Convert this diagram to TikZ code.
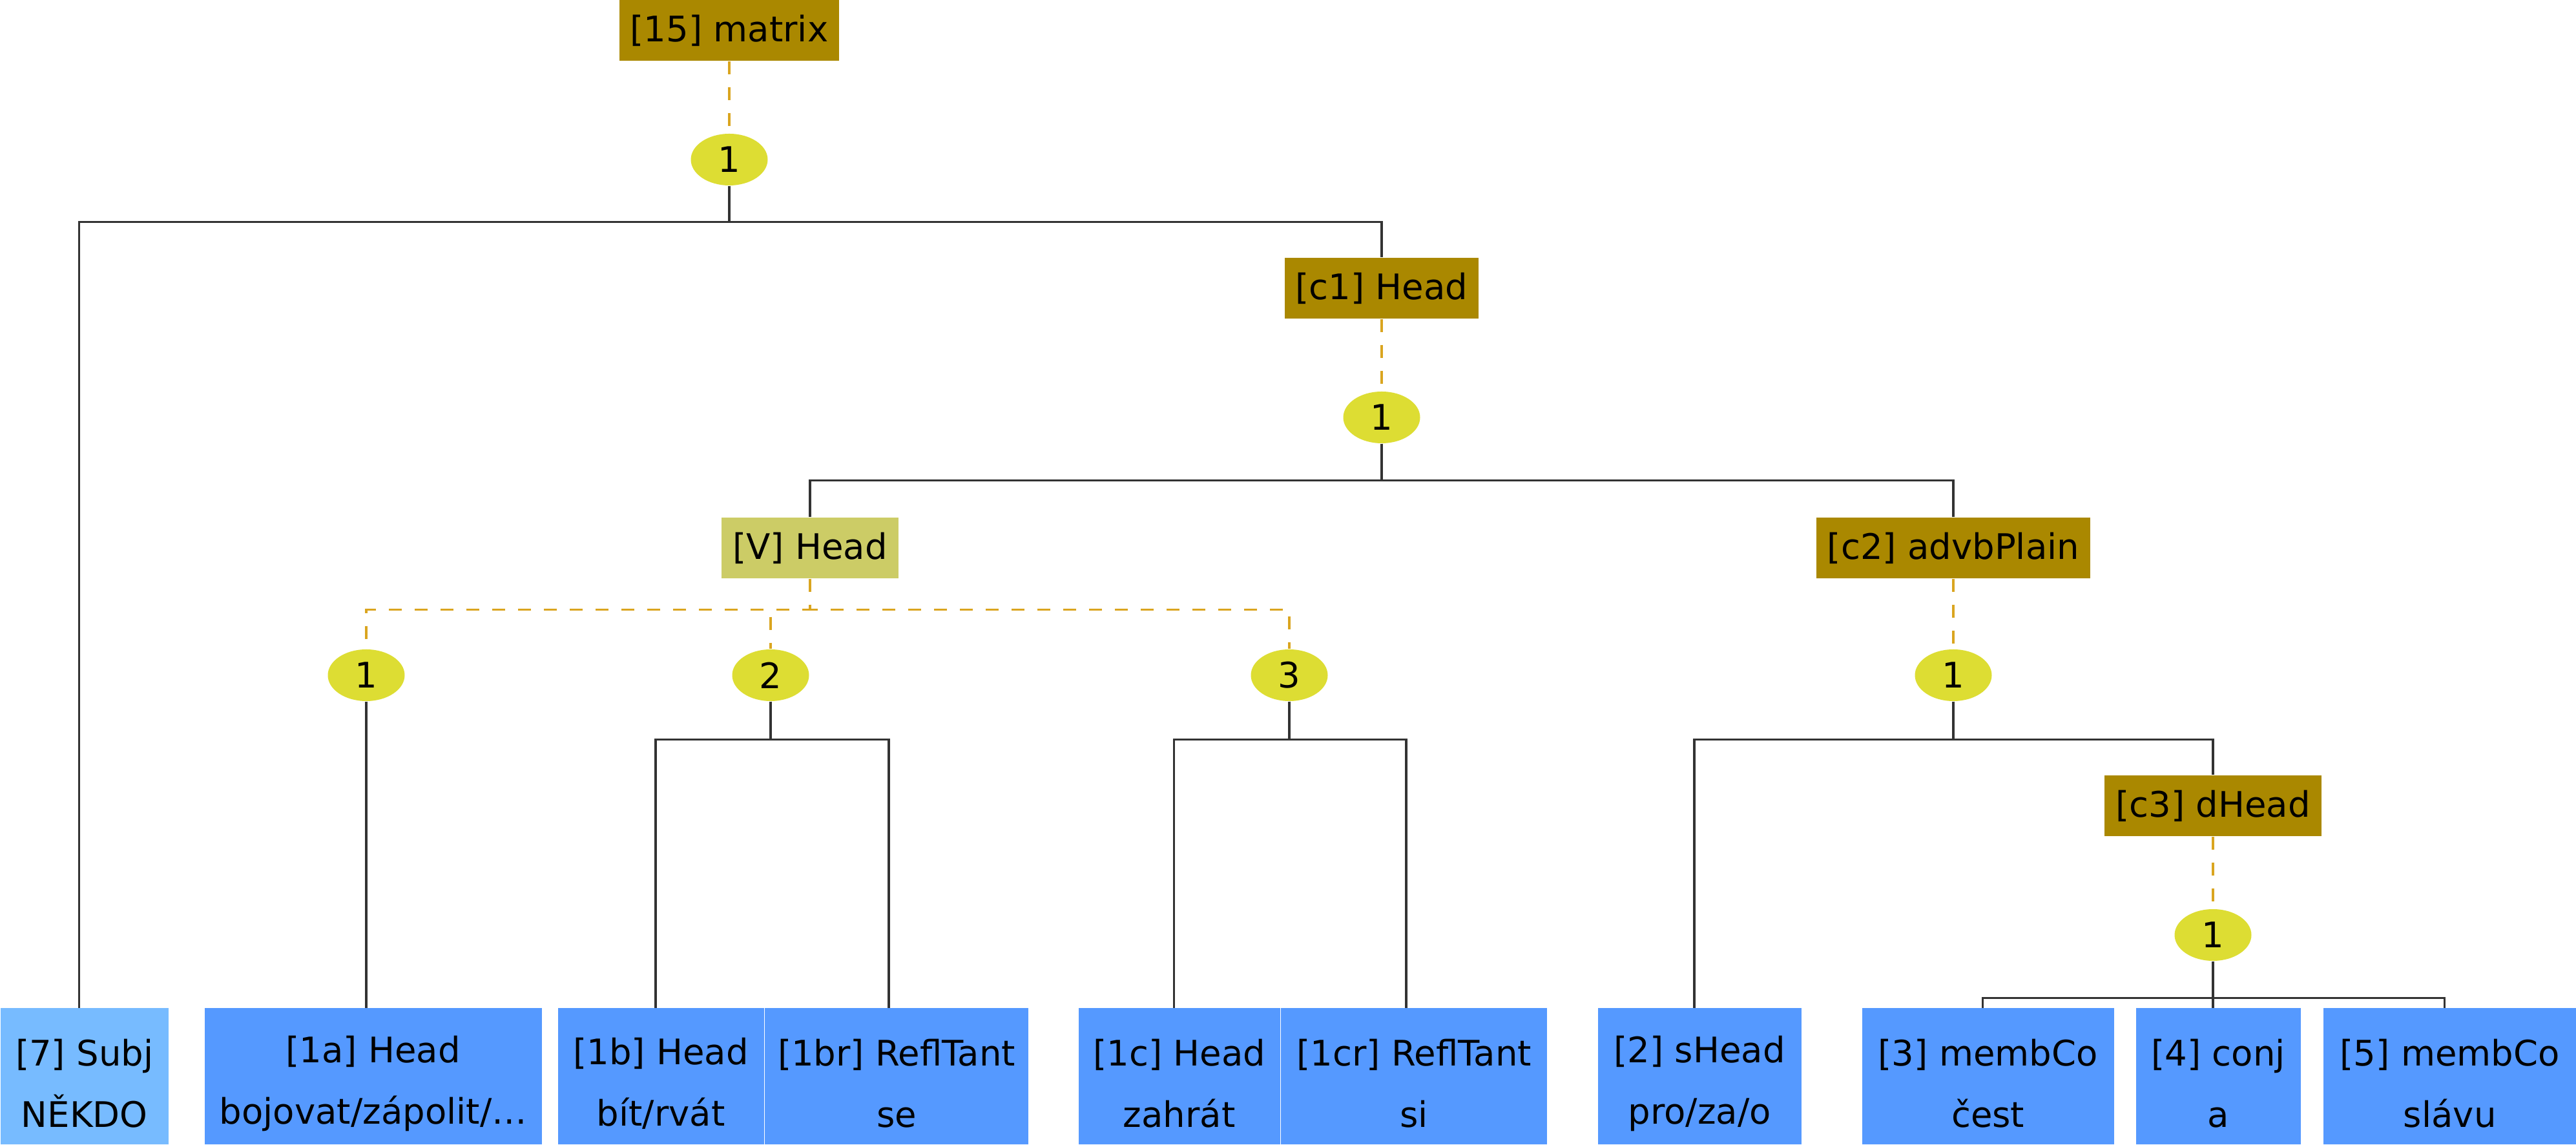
\documentclass[tikz,border=0pt]{standalone}
\usepackage{fontspec}
\setmainfont{DejaVu Sans}
\usetikzlibrary{positioning}
\usetikzlibrary{shapes.geometric}
\definecolor{boxolive}{HTML}{AA8800}
\definecolor{vheadcol}{HTML}{CCCC66}
\definecolor{numcol}{HTML}{DDDD33}
\definecolor{leafcol}{HTML}{5599FF}
\definecolor{subjcol}{HTML}{77BBFF}
\definecolor{linecol}{HTML}{333333}
\definecolor{dashcol}{HTML}{DAA520}
\newcommand{\topstrut}{\rule{0pt}{0.64cm}}
\begin{document}
\begin{tikzpicture}[
    font=\fontsize{15.5}{27}\selectfont,
    cbox/.style={fill=boxolive, minimum height=0.94cm, inner xsep=0.17cm, inner ysep=0pt},
    vbox/.style={cbox, fill=vheadcol},
    num/.style={ellipse, fill=numcol, minimum width=1.19cm, minimum height=0.8cm, inner sep=0pt},
    leaf/.style={fill=leafcol, minimum height=2.11cm, inner sep=0pt, align=center, anchor=south west},
    tline/.style={draw=linecol, line width=1pt},
    dline/.style={draw=dashcol, line width=1pt, dash pattern=on 0.2cm off 0.2cm},
]
    \useasboundingbox (0,0) rectangle (39.88,17.72);
    % inner nodes
    \node[cbox] (m15) at (11.29,17.25) {[15] matrix};
    \node[num] (e1) at (11.29,15.25) {1};
    \node[cbox] (c1) at (21.39,13.26) {[c1] Head};
    \node[num] (e2) at (21.39,11.26) {1};
    \node[vbox] (vh) at (12.54,9.24) {[V] Head};
    \node[cbox] (c2) at (30.24,9.24) {[c2] advbPlain};
    \node[num] (na) at (5.67,7.27) {1};
    \node[num] (nb) at (11.93,7.27) {2};
    \node[num] (nc) at (19.96,7.27) {3};
    \node[num] (nd) at (30.24,7.27) {1};
    \node[cbox] (c3) at (34.26,5.25) {[c3] dHead};
    \node[num] (ne) at (34.26,3.25) {1};
    % leaves
    \node[leaf, fill=subjcol, minimum width=2.60cm] (subj) at (0,0) {\topstrut[7] Subj\\NĚKDO};
    \node[leaf, minimum width=5.22cm] (l1a) at (3.16,0) {\topstrut[1a] Head\\bojovat/zápolit/…};
    \node[leaf, minimum width=3.19cm] (l1b) at (8.63,0) {\topstrut[1b] Head\\bít/rvát};
    \node[leaf, minimum width=4.08cm, right=0pt of l1b] (l1br) {\topstrut[1br] ReflTant\\se};
    \node[leaf, minimum width=3.12cm] (l1c) at (16.69,0) {\topstrut[1c] Head\\zahrát};
    \node[leaf, minimum width=4.12cm, right=0pt of l1c] (l1cr) {\topstrut[1cr] ReflTant\\si};
    \node[leaf, minimum width=3.15cm] (l2) at (24.73,0) {\topstrut[2] sHead\\pro/za/o};
    \node[leaf, minimum width=3.90cm] (l3) at (28.82,0) {\topstrut[3] membCo\\čest};
    \node[leaf, minimum width=2.55cm] (l4) at (33.06,0) {\topstrut[4] conj\\a};
    \node[leaf, minimum width=3.92cm] (l5) at (35.96,0) {\topstrut[5] membCo\\slávu};
    % connectors
    \path[dline] (e1 |- m15.south) -- (e1.north);
    \path[tline] (e1.south) -- ++(0,-0.56) -| ([xshift=-0.08cm]subj.north);
    \path[tline] (e1.south) -- ++(0,-0.56) -| (c1.north);
    \path[dline] (c1.south) -- (e2.north);
    \path[tline] (e2.south) -- ++(0,-0.57) -| (vh.north);
    \path[tline] (e2.south) -- ++(0,-0.57) -| (c2.north);
    \path[dline] (vh.south) -- ++(0,-0.48) -| (na.north);
    \path[dline] (vh.south) -- ++(0,-0.48) -| (nb.north);
    \path[dline] (vh.south) -- ++(0,-0.48) -| (nc.north);
    \path[dline] (c2.south) -- (nd.north);
    \path[tline] (na.south) -- (na |- l1a.north);
    \path[tline] (nb.south) -- ++(0,-0.59) -| ([xshift=-0.08cm]l1b.north);
    \path[tline] (nb.south) -- ++(0,-0.59) -| ([xshift=-0.12cm]l1br.north);
    \path[tline] (nc.south) -- ++(0,-0.59) -| ([xshift=-0.08cm]l1c.north);
    \path[tline] (nc.south) -- ++(0,-0.59) -| ([xshift=-0.12cm]l1cr.north);
    \path[tline] (nd.south) -- ++(0,-0.59) -| ([xshift=-0.08cm]l2.north);
    \path[tline] (nd.south) -- ++(0,-0.59) -| (c3.north);
    \path[dline] (c3.south) -- (ne.north);
    \path[tline] (ne.south) -- ++(0,-0.57) -| ([xshift=-0.08cm]l3.north);
    \path[tline] (ne.south) -- (ne |- l4.north);
    \path[tline] (ne.south) -- ++(0,-0.57) -| ([xshift=-0.08cm]l5.north);
\end{tikzpicture}
\end{document}
